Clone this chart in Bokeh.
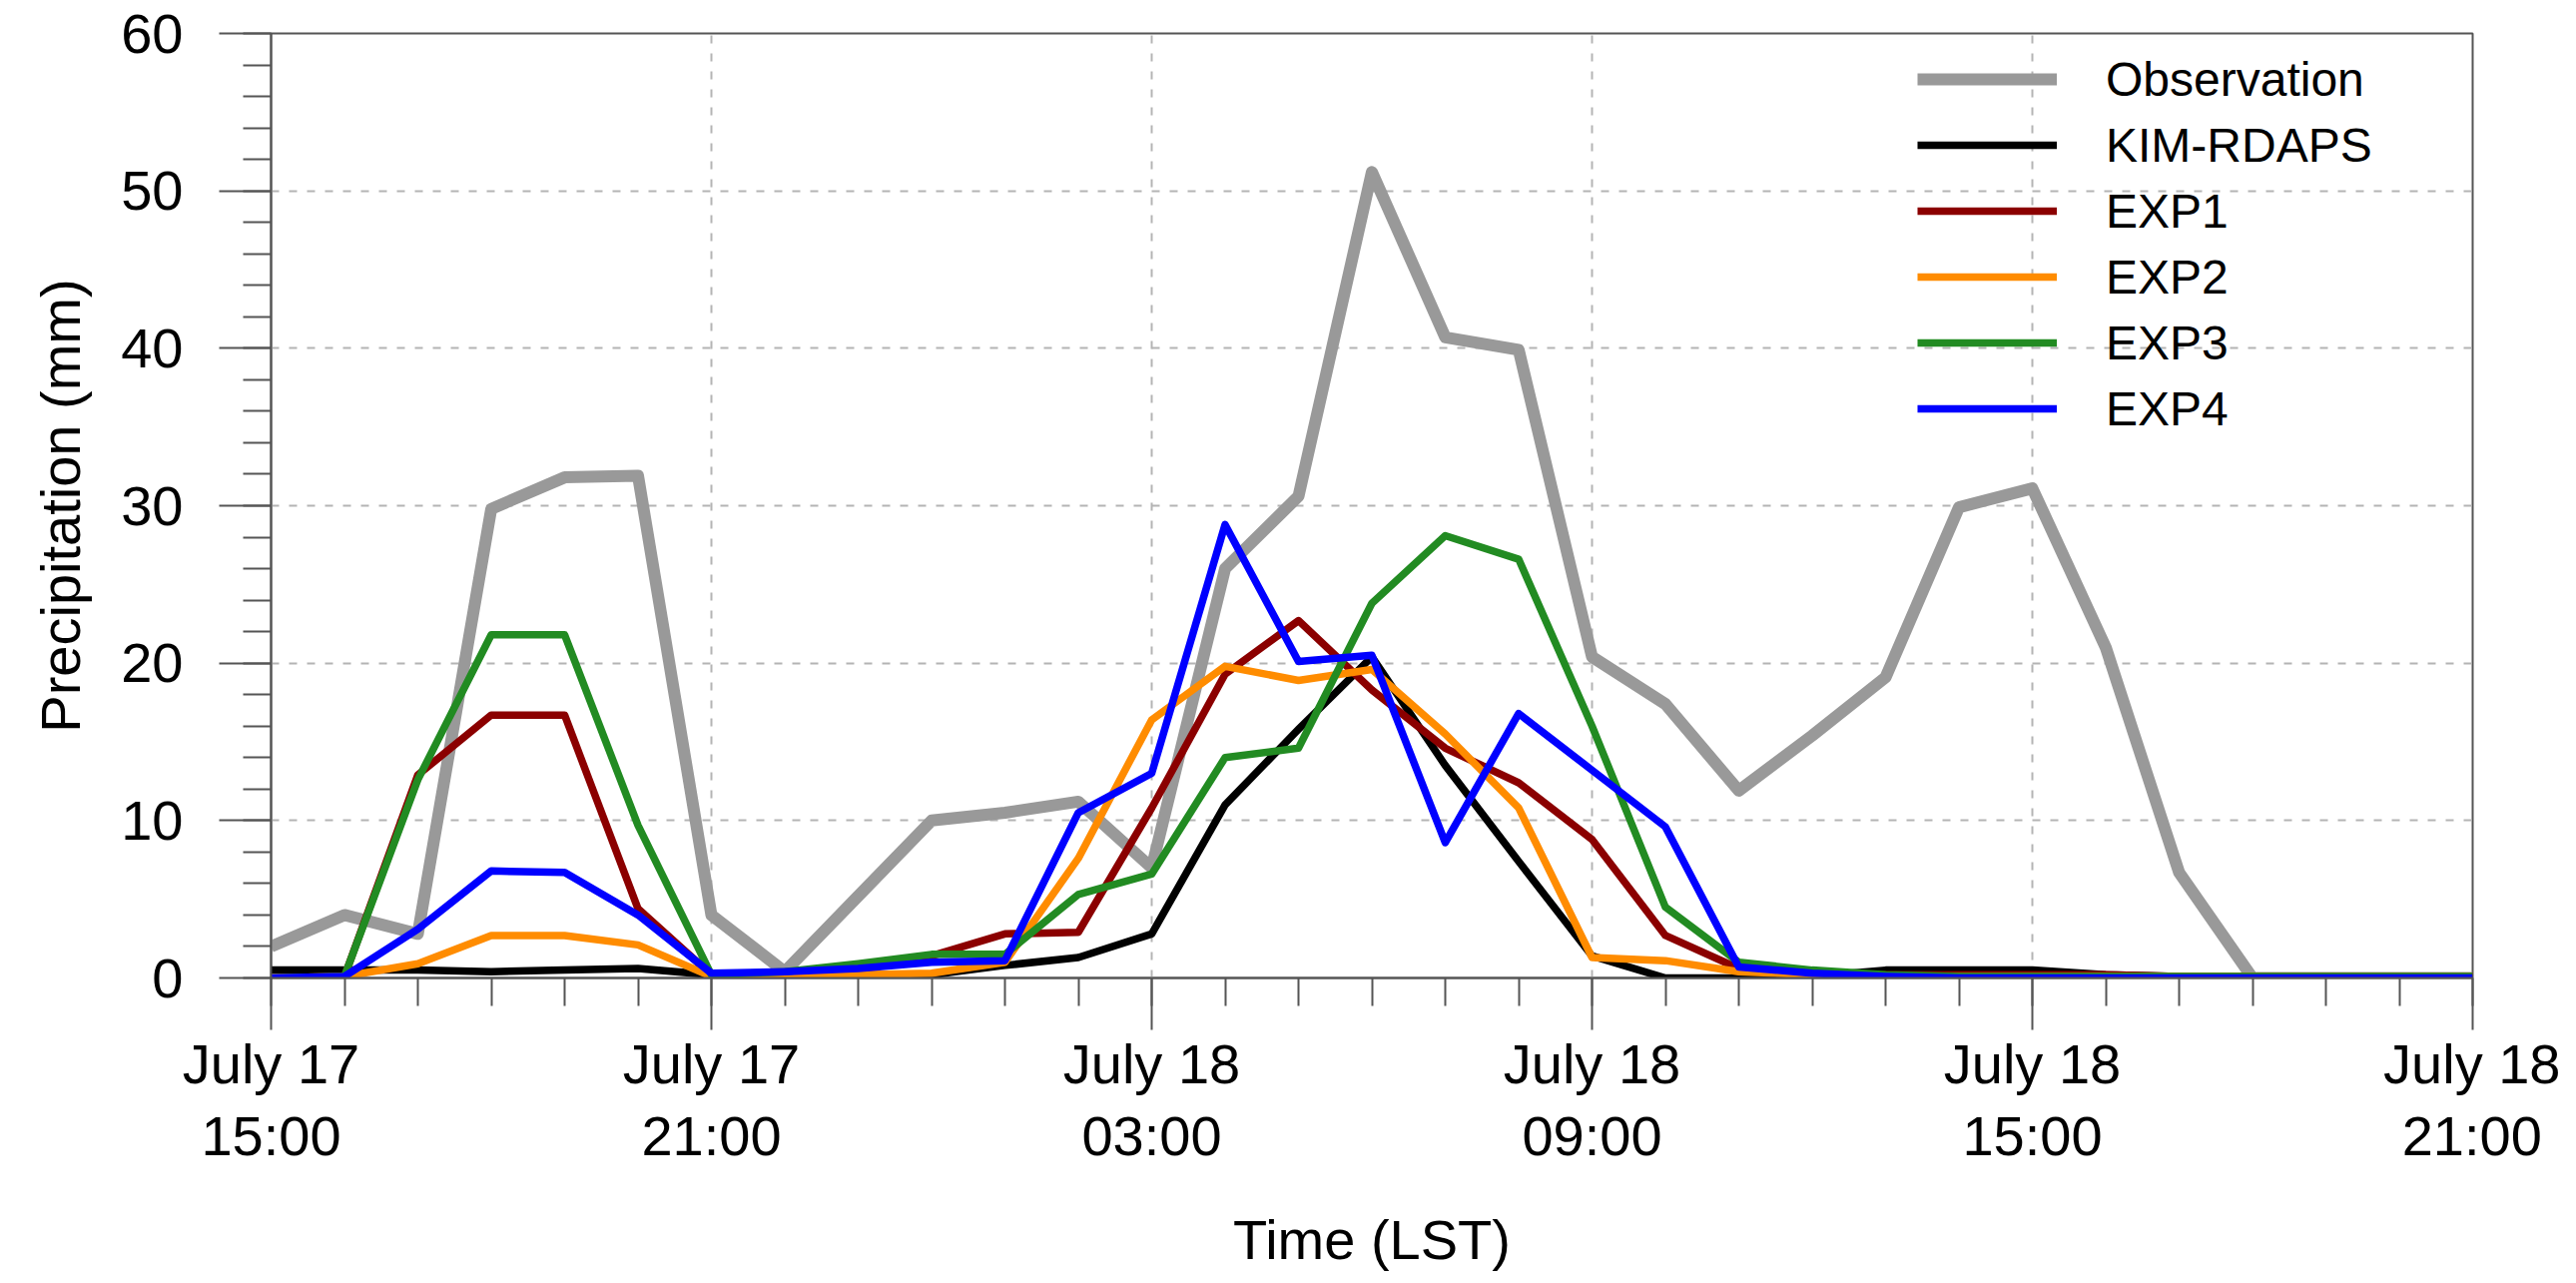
from bokeh.plotting import figure
from bokeh.models import FixedTicker, Range1d, Legend, LegendItem
from bokeh.embed import file_html
from bokeh.resources import INLINE

# hourly precipitation, July 17 15:00 LST .. July 18 21:00 LST
hours = list(range(31))

observation = [2.0, 4.0, 2.8, 29.8, 31.8, 31.9, 4.0, 0.4, 5.2, 10.0, 10.5, 11.2, 7.0,
               26.0, 30.6, 51.2, 40.7, 39.9, 20.4, 17.4, 11.9, 15.4, 19.1, 29.9, 31.1,
               21.0, 6.7, 0.0, 0.0, 0.0, 0.0]
kim_rdaps = [0.5, 0.5, 0.5, 0.4, 0.5, 0.6, 0.2, 0.3, 0.2, 0.2, 0.8, 1.3, 2.8,
             11.0, 15.8, 20.4, 13.5, 7.4, 1.4, 0.0, 0.0, 0.1, 0.5, 0.5, 0.5,
             0.2, 0.1, 0.1, 0.1, 0.1, 0.1]
exp1 = [0.0, 0.1, 12.9, 16.7, 16.7, 4.4, 0.2, 0.3, 0.5, 1.4, 2.8, 2.9, 10.8,
        19.3, 22.7, 18.3, 14.6, 12.4, 8.8, 2.7, 0.6, 0.2, 0.2, 0.2, 0.2,
        0.2, 0.1, 0.1, 0.1, 0.1, 0.1]
exp2 = [0.0, 0.1, 0.9, 2.7, 2.7, 2.1, 0.1, 0.2, 0.2, 0.3, 1.0, 7.6, 16.4,
        19.8, 18.9, 19.6, 15.5, 10.8, 1.3, 1.1, 0.4, 0.2, 0.1, 0.1, 0.1,
        0.1, 0.1, 0.1, 0.1, 0.1, 0.1]
exp3 = [0.0, 0.1, 12.6, 21.8, 21.8, 9.7, 0.2, 0.4, 0.9, 1.5, 1.5, 5.3, 6.6,
        14.0, 14.6, 23.8, 28.1, 26.6, 16.0, 4.5, 1.0, 0.5, 0.2, 0.1, 0.1,
        0.1, 0.1, 0.1, 0.1, 0.1, 0.1]
exp4 = [0.0, 0.1, 3.1, 6.8, 6.7, 4.0, 0.3, 0.4, 0.6, 1.0, 1.1, 10.5, 13.0,
        28.8, 20.1, 20.5, 8.6, 16.8, 13.2, 9.6, 0.7, 0.3, 0.1, 0.0, 0.0,
        0.0, 0.0, 0.0, 0.0, 0.0, 0.0]

series_names = ["Observation", "KIM-RDAPS", "EXP1", "EXP2", "EXP3", "EXP4"]
series_values = [observation, kim_rdaps, exp1, exp2, exp3, exp4]
series_colors = ["#999999", "#000000", "#8b0000", "#ff8c00", "#228b22", "#0000ff"]
series_widths = [12, 7.5, 7.5, 7.5, 7.5, 7.5]

tick_hours = [0, 6, 12, 18, 24, 30]
tick_labels = ["July 17\n15:00", "July 17\n21:00", "July 18\n03:00",
               "July 18\n09:00", "July 18\n15:00", "July 18\n21:00"]
y_ticks = list(range(0, 61, 10))
y_minor = list(range(0, 61, 2))

FONT = "Liberation Sans"

p = figure(width=2564, height=1277,
           x_range=Range1d(0, 30), y_range=Range1d(0, 60),
           output_backend="svg", toolbar_location=None,
           min_border_left=271, min_border_right=88,
           min_border_top=33, min_border_bottom=298)
p.background_fill_color = "white"
p.outline_line_color = "#555555"
p.outline_line_width = 2

# axes
p.xaxis.ticker = FixedTicker(ticks=tick_hours, minor_ticks=hours)
p.xaxis.major_label_overrides = {h: lab for h, lab in zip(tick_hours, tick_labels)}
p.yaxis.ticker = FixedTicker(ticks=y_ticks, minor_ticks=y_minor)

p.axis.axis_line_color = "#555555"
p.axis.axis_line_width = 2
p.axis.major_tick_line_color = "#555555"
p.axis.major_tick_line_width = 2
p.axis.minor_tick_line_color = "#555555"
p.axis.minor_tick_line_width = 2
p.axis.major_tick_in = 0
p.axis.minor_tick_in = 0
p.xaxis.major_tick_out = 52
p.xaxis.minor_tick_out = 28
p.yaxis.major_tick_out = 52
p.yaxis.minor_tick_out = 28

p.axis.major_label_text_font = FONT
p.axis.major_label_text_font_size = "56px"
p.axis.major_label_text_color = "black"
p.xaxis.major_label_text_line_height = 1.15
p.xaxis.major_label_standoff = 2
p.yaxis.major_label_standoff = 36

p.xaxis.axis_label = "Time (LST)"
p.yaxis.axis_label = "Precipitation (mm)"
p.axis.axis_label_text_font = FONT
p.axis.axis_label_text_font_size = "56px"
p.axis.axis_label_text_font_style = "normal"
p.axis.axis_label_text_color = "black"
p.xaxis.axis_label_standoff = 38
p.yaxis.axis_label_standoff = 26

# grid
p.grid.grid_line_color = "#b4b4b4"
p.grid.grid_line_width = 2
p.grid.grid_line_dash = "8 10"

# lines
items = []
for name, vals, col, lw in zip(series_names, series_values, series_colors, series_widths):
    r = p.line(hours, vals, line_color=col, line_width=lw, line_join="round")
    items.append(LegendItem(label=name, renderers=[r]))

legend = Legend(items=items, location=(1644, 532))
legend.background_fill_alpha = 0
legend.border_line_alpha = 0
legend.label_text_font = FONT
legend.label_text_font_size = "48px"
legend.label_text_color = "black"
legend.glyph_width = 140
legend.glyph_height = 66
legend.label_height = 66
legend.spacing = 0
legend.padding = 5
legend.margin = 0
legend.label_standoff = 49
p.add_layout(legend)

open("out.html", "w").write(file_html(p, INLINE))
